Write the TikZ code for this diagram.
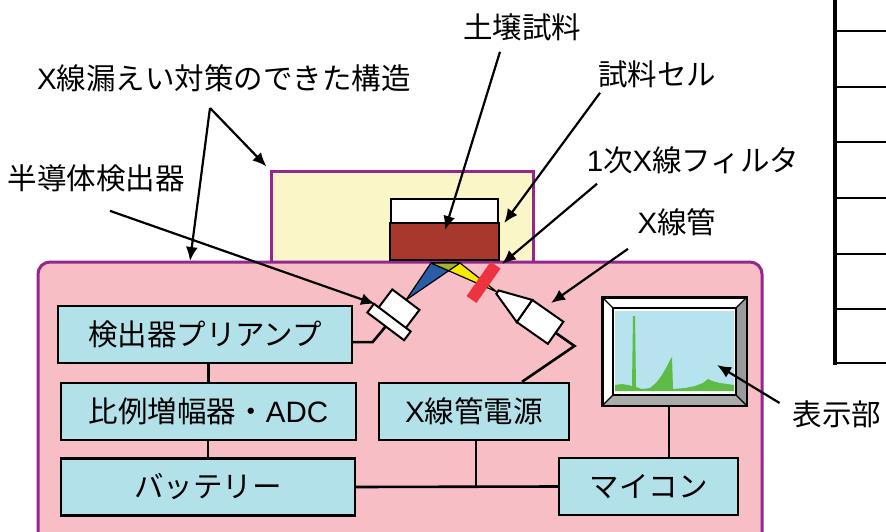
\documentclass[tikz,border=0pt]{standalone}
\usepackage{fontspec}
\setmainfont{Noto Sans CJK JP}
\newfontfamily\latinfont{Liberation Sans}
\usetikzlibrary{arrows.meta}

\definecolor{casepink}{HTML}{F8BEC5}
\definecolor{frame}{HTML}{93278F}
\definecolor{chamberyellow}{HTML}{FBF6C8}
\definecolor{soilbrown}{HTML}{A8372E}
\definecolor{boxblue}{HTML}{B3E1E9}
\definecolor{beamblue}{HTML}{2B5CA8}
\definecolor{beamyellow}{HTML}{F6EA00}
\definecolor{beammix}{HTML}{9CB43A}
\definecolor{filterred}{HTML}{EC3340}
\definecolor{screenblue}{HTML}{B6E3EE}
\definecolor{peakgreen}{HTML}{5EBB46}
\definecolor{bevelside}{HTML}{9A9A9A}
\definecolor{bevelbottom}{HTML}{ABABAB}

\newcommand{\figfont}{\fontsize{29.5}{34}\selectfont}
\newcommand{\lat}[1]{{\latinfont #1}}

\begin{document}
\begin{tikzpicture}[x=1pt,y=-1pt]
	\tikzset{block/.style = {shape=rectangle,draw,fill=boxblue,line width=2.4pt,minimum height=57pt,inner sep=0pt,font=\figfont}}
	\tikzset{lbl/.style = {inner sep=0pt,font=\figfont}}
	\tikzset{pointer/.style = {-{Latex[length=14pt,width=12pt]},line width=2.2pt}}
	\tikzset{wire/.style = {line width=2.6pt}}
	\tikzset{part/.style = {draw,fill=white,line width=2pt}}
	\tikzset{beam/.style = {draw,line width=1.2pt,line join=bevel}}
	\useasboundingbox (0,0) rectangle (886,532);

	% housing and sample chamber
	\node[draw=frame,fill=chamberyellow,line width=3pt,minimum width=262pt,minimum height=91pt] (chamber) at (402,216.5) {};
	\node[draw=frame,fill=casepink,line width=3pt,rounded corners=12pt,minimum width=724pt,minimum height=300pt] (housing) at (400,412) {};

	% sample cell with soil
	\node[draw,fill=white,line width=2.4pt,minimum width=107pt,minimum height=60pt,inner sep=0pt] (cell) at (444.5,229) {};
	\draw[fill=soilbrown,line width=2.4pt] (cell.west |- 0,223) rectangle (cell.south east);

	% primary and fluorescent beams
	\coordinate (detface) at (406,300);
	\coordinate (tubetip) at (497,292);
	\coordinate (spotL) at (431,263);
	\coordinate (spotR) at (460,263);
	\coordinate (spotX) at (intersection of detface--spotR and tubetip--spotL);
	\path[beam,fill=beamblue] (detface) -- (spotL) -- (spotR) -- cycle;
	\path[beam,fill=beamyellow] (tubetip) -- (spotR) -- (spotL) -- cycle;
	\path[beam,fill=beammix] (spotL) -- (spotR) -- (spotX) -- cycle;

	% detector
	\begin{scope}[shift={(389,322)},rotate=-37]
		\draw[part] (-17,-28) rectangle (17,-4);
		\draw[part] (-23,-5.5) rectangle (23,5.5);
		\coordinate (detlead) at (0,5.5);
		\coordinate (detbend) at (-1,26);
		\coordinate (dettip) at (-22,-6);
	\end{scope}

	% x-ray tube and filter
	\begin{scope}[shift={(524.5,311)},rotate=-35]
		\fill[filterred] (-56,-21) rectangle (-44,21);
		\draw[part] (0,-13.5) rectangle (38,13.5);
		\draw[part] (0,-13.5) -- (-33,-2) -- (-33,2) -- (0,13.5) -- cycle;
		\coordinate (tubelead) at (38,0);
		\coordinate (tubebend) at (61,0);
	\end{scope}

	% electronics
	\node[block,minimum width=294pt] (preamp) at (205,334.5) {検出器プリアンプ};
	\node[block,minimum width=295pt] (adc) at (208.5,411.5) {比例増幅器・\lat{ADC}};
	\node[block,minimum width=294pt] (battery) at (208,487) {バッテリー};
	\node[block,minimum width=190pt] (hvps) at (474,411.5) {\lat{X}線管電源};
	\node[block,minimum width=179pt] (mcu) at (648.5,486.5) {マイコン};

	\draw[wire] (adc.north) -- (adc.north |- preamp.south);
	\draw[wire] (battery.north) -- (battery.north |- adc.south);
	\draw[wire] (battery.east) -- (mcu.west);
	\draw[wire] ([xshift=2pt]hvps.south) -- ([xshift=2pt]hvps.south |- mcu.west);
	\draw[wire] (detlead) -- (detbend) -- (detbend -| preamp.east);
	\draw[wire] (tubelead) -- (tubebend) -- ([xshift=48pt]hvps.north);

	% display with spectrum
	\node[draw,fill=white,line width=1.6pt,minimum width=143pt,minimum height=107pt,inner sep=0pt] (monitor) at (674.5,351.5) {};
	\coordinate (scrNW) at (613,308);
	\coordinate (scrSE) at (736,395);
	\fill[bevelside] (monitor.north east) -- (monitor.south east) -- (scrSE) -- (scrSE |- scrNW) -- cycle;
	\fill[bevelbottom] (monitor.south west) -- (monitor.south east) -- (scrSE) -- (scrNW |- scrSE) -- cycle;
	\draw[line width=1.2pt] (monitor.north west) -- (scrNW) (monitor.north east) -- (scrSE |- scrNW)
		(monitor.south east) -- (scrSE) (monitor.south west) -- (scrNW |- scrSE);
	\draw[line width=1.4pt,fill=white] (scrNW) rectangle (scrSE);
	\fill[screenblue] (615,311) rectangle (734,391);
	\fill[peakgreen] plot coordinates {(615,391) (615,385) (622,384) (628,385) (632,386) (633,316) (635,316) (636,387)
		(642,389) (650,388) (656,383) (662,375) (666,368) (670,360) (672,357) (673,389) (685,388) (695,386)
		(703,383) (708,379) (712,381) (720,383) (734,385) (734,391)} -- cycle;
	\draw[line width=1.6pt] (monitor.north west) rectangle (monitor.south east);
	\draw[wire] ([xshift=-5.5pt]monitor.south) -- ([xshift=-5.5pt]monitor.south |- mcu.north);

	% rack on the right
	\draw[line width=3.5pt] (835,-2) -- (835,364.5);
	\foreach \y in {31,87,142,198,254,309,363}
		\draw[line width=2.4pt] (835,\y) -- (890,\y);

	% callouts
	\node[lbl] (leak) at (224,78) {\lat{X}線漏えい対策のできた構造};
	\node[lbl] (detector) at (96,178) {半導体検出器};
	\node[lbl] (soil) at (522,27) {土壌試料};
	\node[lbl] (celllbl) at (657,74) {試料セル};
	\node[lbl] (filter) at (693,160) {\lat{1}次\lat{X}線フィルタ};
	\node[lbl] (tube) at (677,222) {\lat{X}線管};
	\node[lbl] (displbl) at (837,414) {表示部};

	\coordinate (leakfork) at (210,108);
	\draw[pointer] (leakfork) -- ([shift={(-3,-3)}]chamber.north west);
	\draw[pointer] (leakfork) -- (190,261);
	\draw[pointer] ([shift={(14,19)}]detector.south) -- (dettip);
	\draw[pointer] ([shift={(-22,11)}]soil.south) -- (445,230);
	\draw[pointer] ([shift={(-57,5)}]celllbl.south) -- ([xshift=5pt]cell.east |- 0,223);
	\draw[pointer] ([shift={(-96,10)}]filter.south) -- (502,264);
	\draw[pointer] ([shift={(-49,13)}]tube.south) -- (551,303);
	\draw[pointer] ([shift={(-13,-11)}]displbl.west) -- (717,365);
\end{tikzpicture}
\end{document}
